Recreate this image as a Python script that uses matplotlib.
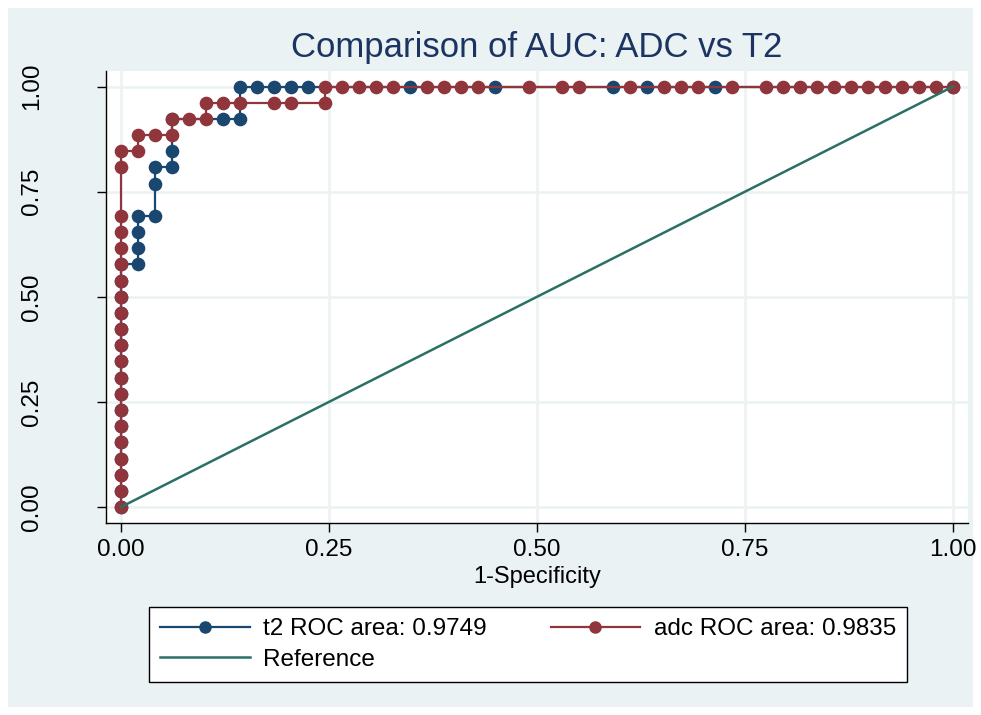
import matplotlib
matplotlib.use('Agg')
import matplotlib.pyplot as plt
from matplotlib.patches import Rectangle

plt.rcParams['font.family'] = ['Liberation Sans', 'DejaVu Sans']

# counts: false positives out of N_NEG negatives, true positives out of N_POS positives
N_NEG = 49
N_POS = 26

t2_fp = [0, 0, 0, 0, 0, 0, 0, 0, 0, 0, 0, 0, 0, 0, 0, 0,
         1, 1, 1, 1, 2, 2, 2, 3, 3, 3, 6, 7, 7,
         8, 9, 10, 11, 17, 22, 29, 31, 35, 49]
t2_tp = [0, 1, 2, 3, 4, 5, 6, 7, 8, 9, 10, 11, 12, 13, 14, 15,
         15, 16, 17, 18, 18, 20, 21, 21, 22, 24, 24, 24, 26,
         26, 26, 26, 26, 26, 26, 26, 26, 26, 26]

adc_fp = [0, 0, 0, 0, 0, 0, 0, 0, 0, 0, 0, 0, 0, 0, 0, 0, 0, 0, 0, 0, 0,
          1, 1, 2, 3, 3, 4, 5, 5, 6, 7, 9, 10, 12, 12,
          13, 14, 15, 16, 18, 19, 20, 21, 24, 26, 27, 30, 32, 33, 34, 36,
          38, 39, 40, 41, 42, 43, 44, 45, 46, 47, 48, 49]
adc_tp = [0, 1, 2, 3, 4, 5, 6, 7, 8, 9, 10, 11, 12, 13, 14, 15, 16, 17, 18, 21, 22,
          22, 23, 23, 23, 24, 24, 24, 25, 25, 25, 25, 25, 25, 26,
          26, 26, 26, 26, 26, 26, 26, 26, 26, 26, 26, 26, 26, 26, 26, 26,
          26, 26, 26, 26, 26, 26, 26, 26, 26, 26, 26, 26]

ref_x = [0.0, 1.0]
ref_y = [0.0, 1.0]

labels = ['t2 ROC area: 0.9749', 'adc ROC area: 0.9835', 'Reference']
title = 'Comparison of AUC: ADC vs T2'
xlabel = '1-Specificity'
ticks = [0.0, 0.25, 0.5, 0.75, 1.0]
tick_labels = ['0.00', '0.25', '0.50', '0.75', '1.00']

BLUE = '#1a476f'
RED = '#90353b'
GREEN = '#2b7065'
BG = '#eaf2f3'
TITLE_C = '#1c3461'

W, H = 981, 715
fig = plt.figure(figsize=(W / 100, H / 100), dpi=100, facecolor='white')
fig.patches.append(Rectangle((8 / W, 8 / H), (W - 16) / W, (H - 16) / H,
                             transform=fig.transFigure, facecolor=BG,
                             edgecolor='none', zorder=-10))

ax = fig.add_axes([106 / W, 1 - 523 / H, (968 - 106) / W, (523 - 71) / H])
ax.set_zorder(1)
ax.set_facecolor('white')
ax.set_xlim(-0.018, 1.018)
ax.set_ylim(-0.038, 1.037)

t2x = [v / N_NEG for v in t2_fp]
t2y = [v / N_POS for v in t2_tp]
adx = [v / N_NEG for v in adc_fp]
ady = [v / N_POS for v in adc_tp]

l1, = ax.plot(t2x, t2y, color=BLUE, lw=1.6, marker='o', ms=8.8, zorder=3)
l2, = ax.plot(adx, ady, color=RED, lw=1.6, marker='o', ms=8.8, zorder=4)
l3, = ax.plot(ref_x, ref_y, color=GREEN, lw=1.8, zorder=5)

ax.set_xticks(ticks)
ax.set_xticklabels(tick_labels)
ax.set_yticks(ticks)
ax.set_yticklabels(tick_labels, rotation=90, va='center')
ax.tick_params(axis='both', labelsize=17.5, length=6.5, width=1, direction='out', color='black')
ax.tick_params(axis='x', pad=5)
ax.tick_params(axis='y', pad=39)
ax.grid(True, color=BG, lw=1.8, zorder=0)
ax.set_axisbelow(True)
for s in ['top', 'right']:
    ax.spines[s].set_visible(False)
for s in ['left', 'bottom']:
    ax.spines[s].set_linewidth(1)
    ax.spines[s].set_color('black')

fig.text(537 / W, 1 - 48 / H, title, ha='center', va='center', fontsize=25, color=TITLE_C)
fig.text(537 / W, 1 - 577 / H, xlabel, ha='center', va='center', fontsize=17)

leg = fig.legend([l1, l3, l2], [labels[0], labels[2], labels[1]], ncol=2,
                 loc='center', mode='expand',
                 bbox_to_anchor=(149 / W, 1 - 685 / H, (907 - 149) / W, (685 - 604) / H),
                 fontsize=17.5, handlelength=3.7, handletextpad=0.55, labelspacing=0.35,
                 borderpad=0.45, numpoints=1, fancybox=False, framealpha=1,
                 edgecolor='black', borderaxespad=0, columnspacing=2.0)
leg.get_frame().set_linewidth(1)
leg.get_frame().set_facecolor('white')
for h in leg.legend_handles:
    try:
        h.set_markersize(8)
    except Exception:
        pass

fig.savefig('out.png', dpi=100, facecolor='white')
